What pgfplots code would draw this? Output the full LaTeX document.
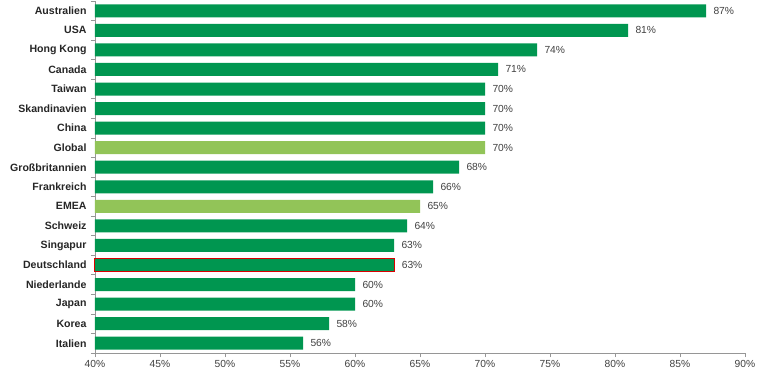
\documentclass[border=0pt]{standalone}
\usepackage{pgfplots}
\pgfplotsset{compat=1.18}
\usepackage{fontspec}
\setmainfont{Liberation Sans}
\definecolor{dkgreen}{RGB}{0,150,80}
\definecolor{ltgreen}{RGB}{146,196,88}
\definecolor{axgray}{RGB}{150,150,150}
\definecolor{txtgray}{RGB}{64,64,64}
\begin{document}
\begin{tikzpicture}
\begin{axis}[
  scale only axis,
  width=650bp, height=352bp,
  xmin=0, xmax=50,
  ymin=-0.5, ymax=17.5,
  y dir=reverse,
  xbar, bar width=13bp, bar shift=0pt,
  axis x line*=bottom, axis y line*=left,
  axis line style={axgray,-},
  /pgf/number format/assume math mode=true,
  xtick={0,5,...,50},
  xticklabels={40\%,45\%,50\%,55\%,60\%,65\%,70\%,75\%,80\%,85\%,90\%},
  xticklabel style={font=\fontsize{10.3}{12}\selectfont, text=txtgray},
  x tick style={axgray, line width=0.6pt},
  tick align=outside,
  major tick length=4bp,
  ytick={0,...,17},
  yticklabels={Australien,USA,Hong Kong,Canada,Taiwan,Skandinavien,China,Global,Großbritannien,Frankreich,EMEA,Schweiz,Singapur,Deutschland,Niederlande,Japan,Korea,Italien},
  yticklabel style={font=\bfseries\fontsize{10.6}{12}\selectfont, text=black!85, xshift=-1bp},
  major y tick style={draw=none},
  minor ytick={-0.5,0.5,...,17.5},
  minor y tick style={axgray, line width=0.6pt},
  minor tick length=4bp,
  nodes near coords={\pgfmathprintnumber{\pgfplotspointmeta}\%},
  point meta=explicit,
  nodes near coords style={font=\fontsize{10.3}{12}\selectfont, text=txtgray, anchor=west, xshift=4bp},
  clip=false,
]
\addplot[fill=dkgreen, draw=none] table[x expr=\thisrow{v}-40, y=i, meta=v, row sep=\\] {
i v \\
0 87 \\
1 81 \\
2 74 \\
3 71 \\
4 70 \\
5 70 \\
6 70 \\
8 68 \\
9 66 \\
11 64 \\
12 63 \\
14 60 \\
15 60 \\
16 58 \\
17 56 \\
};
\addplot[fill=ltgreen, draw=none] table[x expr=\thisrow{v}-40, y=i, meta=v, row sep=\\] {
i v \\
7 70 \\
10 65 \\
};
\addplot[fill=dkgreen, draw=red!85!black, line width=1bp] table[x expr=\thisrow{v}-40, y=i, meta=v, row sep=\\] {
i v \\
13 63 \\
};
\end{axis}
\pgfresetboundingbox
\useasboundingbox ([xshift=-95bp,yshift=-23bp]current axis.south west) rectangle ([xshift=15bp,yshift=1bp]current axis.north east);
\end{tikzpicture}
\end{document}
